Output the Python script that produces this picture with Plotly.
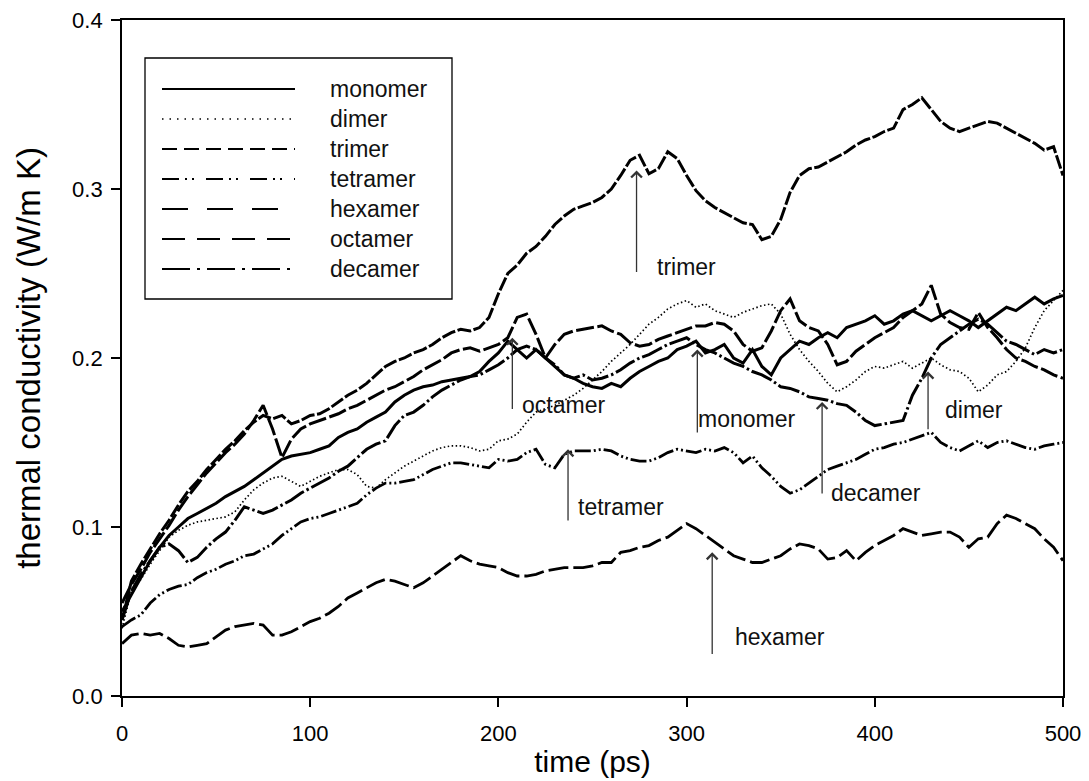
import plotly.graph_objects as go

# Simulation time axis (ps), sampled every 5 ps
time_ps = list(range(0, 501, 5))

monomer = [
    0.050, 0.060, 0.070, 0.080, 0.088, 0.095, 0.100, 0.105, 0.108, 0.111,
    0.114, 0.118, 0.121, 0.124, 0.128, 0.132, 0.136, 0.140, 0.142, 0.143,
    0.144, 0.146, 0.148, 0.153, 0.156, 0.158, 0.162, 0.165, 0.168, 0.174,
    0.178, 0.181, 0.183, 0.184, 0.186, 0.187, 0.188, 0.189, 0.192, 0.198,
    0.203, 0.210, 0.205, 0.200, 0.205, 0.200, 0.195, 0.190, 0.188, 0.185,
    0.183, 0.182, 0.185, 0.183, 0.188, 0.192, 0.195, 0.198, 0.200, 0.205,
    0.207, 0.210, 0.203, 0.205, 0.208, 0.200, 0.197, 0.205, 0.195, 0.190,
    0.200, 0.205, 0.210, 0.208, 0.212, 0.215, 0.212, 0.218, 0.220, 0.222,
    0.225, 0.220, 0.222, 0.226, 0.228, 0.225, 0.222, 0.225, 0.228, 0.225,
    0.222, 0.218, 0.222, 0.226, 0.230, 0.228, 0.232, 0.236, 0.232, 0.235,
    0.237,
]

dimer = [
    0.040, 0.062, 0.069, 0.078, 0.086, 0.094, 0.098, 0.101, 0.103, 0.104,
    0.105, 0.106, 0.109, 0.116, 0.122, 0.126, 0.129, 0.130, 0.127, 0.124,
    0.127, 0.130, 0.132, 0.134, 0.134, 0.131, 0.124, 0.123, 0.128, 0.132,
    0.136, 0.139, 0.142, 0.145, 0.147, 0.148, 0.148, 0.147, 0.145, 0.146,
    0.151, 0.152, 0.155, 0.162, 0.168, 0.170, 0.172, 0.175, 0.178, 0.182,
    0.187, 0.192, 0.198, 0.203, 0.208, 0.214, 0.220, 0.224, 0.229, 0.232,
    0.234, 0.230, 0.232, 0.228, 0.226, 0.224, 0.227, 0.229, 0.231, 0.232,
    0.226, 0.214, 0.205, 0.198, 0.192, 0.185, 0.180, 0.183, 0.187, 0.192,
    0.195, 0.194, 0.196, 0.198, 0.194, 0.197, 0.200, 0.196, 0.193, 0.192,
    0.188, 0.180, 0.184, 0.190, 0.192, 0.198, 0.206, 0.218, 0.228, 0.234,
    0.240,
]

trimer = [
    0.045, 0.068, 0.078, 0.087, 0.096, 0.104, 0.113, 0.121, 0.127, 0.134,
    0.140, 0.146, 0.151, 0.157, 0.162, 0.166, 0.164, 0.166, 0.161, 0.163,
    0.166, 0.167, 0.170, 0.174, 0.178, 0.181, 0.185, 0.190, 0.195, 0.198,
    0.200, 0.203, 0.205, 0.208, 0.212, 0.215, 0.217, 0.216, 0.218, 0.224,
    0.238, 0.250, 0.255, 0.262, 0.266, 0.272, 0.279, 0.284, 0.288, 0.290,
    0.292, 0.295, 0.300, 0.308, 0.317, 0.320, 0.309, 0.312, 0.322, 0.318,
    0.308, 0.299, 0.293, 0.289, 0.286, 0.283, 0.280, 0.279, 0.270, 0.272,
    0.282, 0.298, 0.308, 0.312, 0.313, 0.316, 0.319, 0.322, 0.326, 0.329,
    0.331, 0.334, 0.336, 0.347, 0.350, 0.354, 0.347, 0.340, 0.336, 0.334,
    0.336, 0.338, 0.340, 0.339, 0.336, 0.333, 0.330, 0.327, 0.323, 0.325,
    0.308,
]

tetramer = [
    0.041, 0.045, 0.048, 0.055, 0.060, 0.063, 0.065, 0.066, 0.070, 0.073,
    0.075, 0.078, 0.080, 0.083, 0.084, 0.087, 0.090, 0.095, 0.099, 0.103,
    0.105, 0.106, 0.108, 0.110, 0.112, 0.114, 0.119, 0.123, 0.126, 0.126,
    0.127, 0.128, 0.131, 0.134, 0.136, 0.138, 0.138, 0.137, 0.136, 0.135,
    0.140, 0.139, 0.140, 0.144, 0.146, 0.137, 0.135, 0.143, 0.145, 0.145,
    0.145, 0.146, 0.145, 0.142, 0.140, 0.139, 0.139, 0.141, 0.144, 0.146,
    0.145, 0.144, 0.146, 0.145, 0.147, 0.144, 0.138, 0.142, 0.135, 0.130,
    0.124, 0.120, 0.122, 0.126, 0.130, 0.134, 0.136, 0.138, 0.140, 0.143,
    0.146, 0.147, 0.149, 0.150, 0.152, 0.154, 0.156, 0.150, 0.147, 0.145,
    0.148, 0.151, 0.147, 0.150, 0.151, 0.149, 0.147, 0.146, 0.148, 0.149,
    0.150,
]

hexamer = [
    0.031, 0.036, 0.037, 0.036, 0.037, 0.034, 0.030, 0.029, 0.030, 0.031,
    0.035, 0.039, 0.041, 0.042, 0.043, 0.042, 0.036, 0.036, 0.038, 0.041,
    0.044, 0.046, 0.049, 0.053, 0.058, 0.061, 0.064, 0.067, 0.069, 0.068,
    0.066, 0.064, 0.067, 0.071, 0.075, 0.079, 0.083, 0.080, 0.078, 0.077,
    0.076, 0.073, 0.071, 0.071, 0.072, 0.074, 0.075, 0.076, 0.076, 0.076,
    0.077, 0.079, 0.079, 0.085, 0.086, 0.088, 0.089, 0.092, 0.094, 0.098,
    0.102, 0.099, 0.095, 0.091, 0.087, 0.083, 0.081, 0.079, 0.079, 0.081,
    0.083, 0.087, 0.090, 0.089, 0.087, 0.081, 0.082, 0.086, 0.080, 0.085,
    0.089, 0.092, 0.095, 0.099, 0.097, 0.095, 0.096, 0.097, 0.097, 0.094,
    0.088, 0.093, 0.094, 0.102, 0.107, 0.105, 0.102, 0.099, 0.093, 0.088,
    0.080,
]

octamer = [
    0.055, 0.066, 0.075, 0.085, 0.093, 0.101, 0.110, 0.118, 0.125, 0.132,
    0.138, 0.144, 0.149, 0.155, 0.163, 0.172, 0.158, 0.141, 0.152, 0.158,
    0.161, 0.163, 0.165, 0.167, 0.170, 0.172, 0.175, 0.178, 0.181, 0.183,
    0.186, 0.189, 0.193, 0.196, 0.199, 0.203, 0.205, 0.206, 0.204, 0.206,
    0.208, 0.212, 0.224, 0.226, 0.214, 0.200, 0.208, 0.214, 0.216, 0.217,
    0.218, 0.219, 0.216, 0.214, 0.209, 0.207, 0.208, 0.211, 0.213, 0.215,
    0.217, 0.219, 0.219, 0.221, 0.220, 0.216, 0.208, 0.204, 0.206, 0.216,
    0.228, 0.235, 0.222, 0.218, 0.216, 0.208, 0.196, 0.198, 0.204, 0.208,
    0.212, 0.215, 0.218, 0.224, 0.228, 0.232, 0.243, 0.226, 0.221, 0.218,
    0.217, 0.227, 0.218, 0.212, 0.205, 0.200, 0.198, 0.195, 0.193, 0.190,
    0.188,
]

decamer = [
    0.045, 0.062, 0.072, 0.080, 0.088, 0.090, 0.086, 0.079, 0.082, 0.088,
    0.093, 0.097, 0.104, 0.112, 0.110, 0.108, 0.110, 0.113, 0.116, 0.120,
    0.123, 0.126, 0.129, 0.133, 0.136, 0.141, 0.146, 0.149, 0.151, 0.160,
    0.166, 0.168, 0.172, 0.177, 0.181, 0.184, 0.187, 0.189, 0.190, 0.193,
    0.196, 0.200, 0.205, 0.207, 0.205, 0.200, 0.196, 0.190, 0.188, 0.190,
    0.187, 0.188, 0.190, 0.193, 0.197, 0.200, 0.202, 0.205, 0.208, 0.210,
    0.212, 0.208, 0.205, 0.203, 0.200, 0.197, 0.195, 0.192, 0.190, 0.187,
    0.183, 0.182, 0.180, 0.177, 0.176, 0.175, 0.173, 0.172, 0.168, 0.163,
    0.160, 0.161, 0.162, 0.163, 0.178, 0.188, 0.200, 0.208, 0.212, 0.216,
    0.220, 0.223, 0.220, 0.215, 0.210, 0.208, 0.205, 0.202, 0.205, 0.203,
    0.205,
]

series_names = ["monomer", "dimer", "trimer", "tetramer", "hexamer", "octamer", "decamer"]
series_values = [monomer, dimer, trimer, tetramer, hexamer, octamer, decamer]

# Labelled arrows: arrow time, tip value, tail value, label position
arrow_labels = ["trimer", "octamer", "monomer", "tetramer", "decamer", "dimer", "hexamer"]
arrow_t = [273.4, 207.4, 305.7, 237.0, 372.0, 428.3, 313.6]
arrow_tip = [0.311, 0.212, 0.205, 0.146, 0.174, 0.192, 0.085]
arrow_tail = [0.250, 0.169, 0.155, 0.103, 0.119, 0.157, 0.024]
label_t = [283.4, 211.6, 305.0, 241.0, 375.8, 436.0, 324.8]
label_v = [0.254, 0.172, 0.164, 0.112, 0.120, 0.169, 0.035]

# Line styles per series (plot traces)
styles = {
    "monomer": dict(dash="solid", width=3.0),
    "dimer": dict(dash="1.5px,2.5px", width=1.7),
    "trimer": dict(dash="14px,2.5px", width=3.0),
    "tetramer": dict(dash="16px,3px,2px,3px,2px,3px", width=2.8),
    "hexamer": dict(dash="20px,5px", width=2.8),
    "octamer": dict(dash="18px,3.5px", width=3.0),
    "decamer": dict(dash="22px,3px,2.5px,3px", width=3.0),
}
# Line styles for the key samples
legend_styles = {
    "monomer": dict(dash="solid", width=2),
    "dimer": dict(dash="1.5px,6px", width=1.5),
    "trimer": dict(dash="15px,7px", width=2),
    "tetramer": dict(dash="17px,6px,2px,5px,2px,12px", width=2),
    "hexamer": dict(dash="26px,19px", width=2),
    "octamer": dict(dash="23px,12px", width=2),
    "decamer": dict(dash="28px,7px,3px,7px", width=2),
}

FONT = "Liberation Sans, Arial, sans-serif"
W, H = 1089, 781
ML, MR, MT, MB = 122, 26, 20, 85
PW, PH = W - ML - MR, H - MT - MB


def px_x(px):
    return (px - ML) / PW


def px_y(py):
    return (H - MB - py) / PH


fig = go.Figure()
for name, vals in zip(series_names, series_values):
    st = styles[name]
    fig.add_trace(go.Scatter(
        x=time_ps, y=vals, mode="lines", name=name, showlegend=False,
        line=dict(color="black", width=st["width"], dash=st["dash"]),
        hoverinfo="skip",
    ))

shapes = []
annotations = []

# Key: frame, line samples and labels
shapes.append(dict(type="rect", xref="paper", yref="paper",
                   x0=px_x(145), x1=px_x(452), y0=px_y(299), y1=px_y(58),
                   line=dict(color="black", width=1.3), fillcolor="white", layer="above"))
for i, name in enumerate(series_names):
    row_y = px_y(89 + 30 * i)
    st = legend_styles[name]
    shapes.append(dict(type="line", xref="paper", yref="paper",
                       x0=px_x(162), x1=px_x(295), y0=row_y, y1=row_y,
                       line=dict(color="black", width=st["width"], dash=st["dash"]),
                       layer="above"))
    annotations.append(dict(xref="paper", yref="paper", x=px_x(328), y=row_y,
                            text=name, showarrow=False, xanchor="left", yanchor="middle",
                            font=dict(family=FONT, size=23, color="#111")))

# Arrows pointing at individual curves, with their labels
for lab, t, tip, tail, lt, lv in zip(arrow_labels, arrow_t, arrow_tip, arrow_tail, label_t, label_v):
    annotations.append(dict(x=t, y=tip, ax=t, ay=tail, xref="x", yref="y",
                            axref="x", ayref="y", text="", showarrow=True,
                            arrowhead=4, arrowsize=1.6, arrowwidth=1.3,
                            arrowcolor="#333"))
    annotations.append(dict(x=lt, y=lv, xref="x", yref="y", text=lab,
                            showarrow=False, xanchor="left", yanchor="middle",
                            font=dict(family=FONT, size=23, color="#111")))

fig.update_layout(
    width=W, height=H,
    margin=dict(l=ML, r=MR, t=MT, b=MB, pad=0, autoexpand=False),
    paper_bgcolor="white", plot_bgcolor="white",
    font=dict(family=FONT, color="black"),
    shapes=shapes, annotations=annotations,
    showlegend=False,
)
fig.update_xaxes(
    range=[0, 500], tickvals=[0, 100, 200, 300, 400, 500],
    ticks="outside", ticklen=9, tickwidth=1.5, tickcolor="black",
    showline=True, linecolor="black", linewidth=1.8, mirror=True,
    showgrid=False, zeroline=False, automargin=False,
    tickfont=dict(family=FONT, size=22, color="black"),
    ticklabelstandoff=8,
    title=dict(text="time (ps)", font=dict(family=FONT, size=30, color="black"), standoff=6),
)
fig.update_yaxes(
    range=[0, 0.4], tickvals=[0.0, 0.1, 0.2, 0.3, 0.4], tickformat=".1f",
    ticks="outside", ticklen=9, tickwidth=1.5, tickcolor="black",
    showline=True, linecolor="black", linewidth=1.8, mirror=True,
    showgrid=False, zeroline=False, automargin=False,
    tickfont=dict(family=FONT, size=22, color="black"),
    ticklabelstandoff=4,
    title=dict(text="thermal conductivity (W/m K)", font=dict(family=FONT, size=33, color="black"), standoff=22),
)

fig.write_html("out.html")
